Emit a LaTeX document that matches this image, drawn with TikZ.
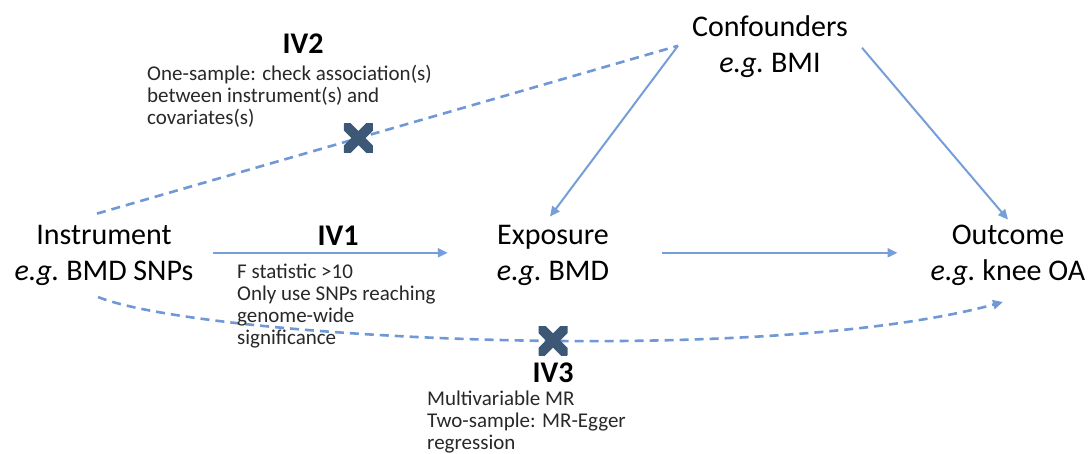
\documentclass[tikz,border=0pt]{standalone}
\usepackage{fontspec}
\setmainfont{Carlito}
\usetikzlibrary{arrows.meta}
\definecolor{linec}{RGB}{118,158,216}
\definecolor{dashc}{RGB}{112,152,214}
\definecolor{xcol}{RGB}{61,88,118}
\definecolor{notetxt}{RGB}{40,40,40}
\newcommand{\mlc}[1]{\begin{tabular}[t]{@{}c@{}}#1\end{tabular}}
\newcommand{\mll}[1]{\begin{tabular}[t]{@{}l@{}}#1\end{tabular}}
\begin{document}
\begin{tikzpicture}[x=1pt,y=-1pt,
  lbl/.style={inner sep=0pt, font=\fontsize{30}{36}\selectfont, text=black},
  iv/.style={inner sep=0pt, font=\fontsize{30}{36}\selectfont\bfseries, text=black},
  note/.style={inner sep=0pt, font=\fontsize{21}{21.7}\selectfont, text=notetxt},
  sline/.style={draw=linec, line width=2pt, -{Triangle[length=10pt,width=9pt]}},
  dline/.style={draw=dashc, line width=2.6pt, dash pattern=on 9pt off 6pt},
  xmark/.style={minimum size=29pt, inner sep=0pt, draw=none,
    path picture={\draw[-, solid, line cap=butt, xcol, line width=10pt]
      (path picture bounding box.south west) -- (path picture bounding box.north east)
      (path picture bounding box.north west) -- (path picture bounding box.south east);}}
]
\fill[white] (0,0) rectangle (1088,454);
\useasboundingbox (0,0) rectangle (1088,454);

% main nodes
\node[lbl, anchor=base] (conf) at (770,37) {\mlc{Confounders\\\textit{e.g.}\ BMI}};
\node[lbl, anchor=base] (inst) at (104,245) {\mlc{Instrument\\\textit{e.g.}\ BMD SNPs}};
\node[lbl, anchor=base] (expo) at (553,245) {\mlc{Exposure\\\textit{e.g.}\ BMD}};
\node[lbl, anchor=base] (outc) at (1008,245) {\mlc{Outcome\\\textit{e.g.}\ knee OA}};

% connectors
\draw[dline] ([xshift=-7pt,yshift=6pt]inst.north)
  -- node[pos=0.45, xmark] (x1) {} ([xshift=-14pt,yshift=2pt]conf.west);
\draw[sline] ([xshift=-14pt,yshift=2pt]conf.west) -- ([xshift=-3pt,yshift=3pt]expo.north);
\draw[sline] ([xshift=14pt]conf.east) -- (outc.north);
\draw[sline] ([xshift=19pt,yshift=3pt]inst.east) -- ([xshift=-49pt,yshift=3pt]expo.west);
\draw[sline] ([xshift=53pt,yshift=3pt]expo.east) -- ([xshift=-33pt,yshift=3pt]outc.west);
\draw[dline, -{Triangle[length=10pt,width=9pt]}] ([xshift=-6pt,yshift=-5pt]inst.south)
  .. controls (200,338) and (760,368) .. node[pos=0.55, xmark] (x2) {} ([xshift=-5pt,yshift=-10pt]outc.south);

% IV labels
\node[iv, anchor=base] (iv2) at (303,54) {IV2};
\node[note, anchor=base west] (iv2t) at (147,81) {\mll{One-sample: check association(s)\\between instrument(s) and\\covariates(s)}};
\node[iv, anchor=base] (iv1) at (338,246) {IV1};
\node[note, anchor=base west] (iv1t) at (237,279) {\mll{F statistic >10\\Only use SNPs reaching\\genome-wide\\significance}};
\node[iv, anchor=base] (iv3) at (553,383) {IV3};
\node[note, anchor=base west] (iv3t) at (427,406) {\mll{Multivariable MR\\Two-sample: MR-Egger\\regression}};
\end{tikzpicture}
\end{document}
